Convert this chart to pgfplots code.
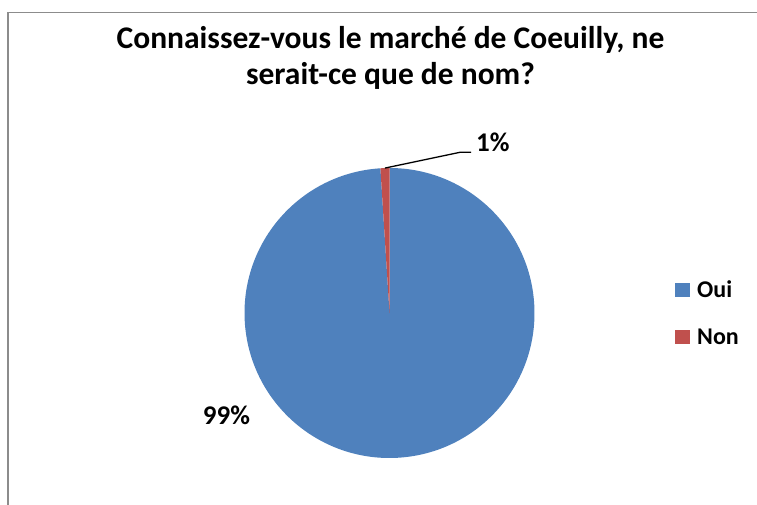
\documentclass[border=0pt]{standalone}
\usepackage{pgfplots}
\usepackage{pgfplotstable}
\pgfplotsset{compat=1.18}
\usepackage{fontspec}
\setmainfont{Carlito}
\definecolor{ouiblue}{HTML}{4F81BD}
\definecolor{nonred}{HTML}{C0504D}
\definecolor{framegray}{HTML}{8C8C8C}

\pgfplotstableread{
label value
Oui 99
Non 1
}\piedata

\begin{document}
\begin{tikzpicture}
\useasboundingbox (0,0) rectangle (757pt,505pt);
\pgfplotstablegetelem{0}{value}\of\piedata \let\vOui\pgfplotsretval
\pgfplotstablegetelem{1}{value}\of\piedata \let\vNon\pgfplotsretval
\pgfmathsetmacro{\aNon}{360*\vNon/(\vOui+\vNon)}
\pgfmathsetmacro{\aStart}{90+\aNon}
\pgfmathsetmacro{\aMid}{90+\aNon/2}
\begin{axis}[
  at={(0,0)}, anchor=south west,
  scale only axis, width=757pt, height=505pt,
  xmin=0, xmax=757, ymin=0, ymax=505,
  y dir=reverse, hide axis, clip=false,
]
% frame
\draw[framegray, line width=1.3pt] (axis cs:8,505) -- (axis cs:8,12.5) -- (axis cs:757,12.5);
% title (base anchor = last line)
\node[anchor=base, align=center, inner sep=0pt, font=\fontsize{31.5}{36.5}\selectfont\bfseries]
  at (axis cs:390.5,85) {Connaissez-vous le marché de Coeuilly, ne\\serait-ce que de nom?};
% pie: Oui clockwise from 12 o'clock, then Non
\fill[ouiblue] (axis cs:389.5,313) -- +(\aStart:145pt) arc[start angle=\aStart, end angle=450, radius=145pt] -- cycle;
\fill[nonred] (axis cs:389.5,313) -- +(90:145pt) arc[start angle=90, end angle=\aStart, radius=145pt] -- cycle;
% data labels
\draw[black, line width=1.3pt] (axis cs:389.5,313) ++(\aMid:145pt) -- (axis cs:460,152.3) -- (axis cs:471,152.3);
\node[anchor=base west, inner sep=0pt, font=\fontsize{27}{30}\selectfont\bfseries] at (axis cs:476,151.7) {1\%};
\node[anchor=base west, inner sep=0pt, font=\fontsize{27}{30}\selectfont\bfseries] at (axis cs:202.7,424.3) {99\%};
% legend
\fill[ouiblue] (axis cs:675,283) rectangle (axis cs:689.5,297);
\fill[nonred] (axis cs:675,330) rectangle (axis cs:689.5,344);
\node[anchor=base west, inner sep=0pt, font=\fontsize{24}{28}\selectfont\bfseries] at (axis cs:697,297.3) {Oui};
\node[anchor=base west, inner sep=0pt, font=\fontsize{24}{28}\selectfont\bfseries] at (axis cs:697,344) {Non};
\end{axis}
\end{tikzpicture}
\end{document}
